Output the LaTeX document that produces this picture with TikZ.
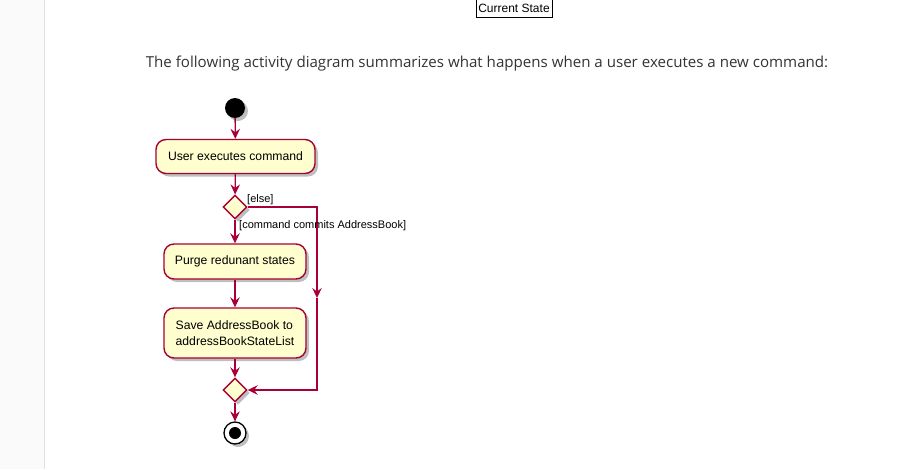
\documentclass[tikz,border=0pt]{standalone}
\usepackage{fontspec}
\setmainfont{Liberation Sans}
\newfontfamily\parafont{Open Sans}
\usetikzlibrary{arrows.meta,shapes.geometric,shadows}
\definecolor{umlred}{HTML}{A80036}
\definecolor{umlfill}{HTML}{FEFECE}
\definecolor{paratext}{HTML}{333333}
\definecolor{sidebg}{HTML}{FAFAFA}
\definecolor{sideline}{HTML}{E0E0E0}
\tikzset{
  umlshadow/.style={drop shadow={shadow xshift=3pt,shadow yshift=-3pt,fill=black,opacity=0.25}},
  action/.style={draw=umlred,fill=umlfill,line width=1.4pt,rounded corners=10pt,umlshadow,
    minimum height=34pt,inner xsep=9pt,align=left,font=\fontsize{12.2}{15.5}\selectfont},
  decision/.style={draw=umlred,fill=umlfill,line width=1.4pt,diamond,minimum width=24pt,minimum height=24pt,inner sep=0pt,umlshadow},
  flow/.style={draw=umlred,line width=1.3pt,-{Stealth[length=10pt,width=9.5pt,inset=3.5pt]}},
  guard/.style={font=\fontsize{11}{12}\selectfont,inner sep=1pt},
}
\begin{document}
\begin{tikzpicture}[x=1pt,y=-1pt]
\useasboundingbox (0,0) rectangle (919,469);
\fill[white] (0,0) rectangle (919,469);
\fill[sidebg] (0,0) rectangle (44,469);
\draw[sideline,line width=1pt] (44.5,0) -- (44.5,469);
\node[draw=black,line width=0.9pt,fill=white,inner sep=1.5pt,minimum width=76pt,minimum height=18pt,font=\fontsize{12}{14}\selectfont] (cs) at (514,8) {Current State};
\node[font=\parafont\fontsize{15.1}{18}\selectfont,text=paratext] (para) at (487,63.5) {The following activity diagram summarizes what happens when a user executes a new command:};
\node[circle,fill=black,minimum size=20pt,inner sep=0pt,umlshadow] (start) at (235,108) {};
\node[action,minimum width=159pt] (exec) at (235.5,156.5) {User executes command};
\node[decision] (d1) at (235,207) {};
\node[action,minimum width=142pt,minimum height=35pt] (purge) at (235,261.5) {Purge redunant states};
\node[action,minimum width=142pt,minimum height=50pt] (save) at (235,333) {Save AddressBook to\\addressBookStateList};
\node[decision] (d2) at (235,390) {};
\node[circle,draw=black,line width=1.3pt,fill=white,minimum size=22pt,inner sep=0pt,umlshadow] (stop) at (235,433) {};
\node[circle,fill=black,minimum size=12pt,inner sep=0pt] (stopin) at (stop) {};
\coordinate (r1) at (317,207);
\coordinate (rm) at (317,298);
\coordinate (r2) at (317,390);
\draw[flow] (start) -- (exec);
\draw[flow] (exec) -- (d1);
\draw[flow] (d1) -- (purge);
\draw[flow] (purge) -- (save);
\draw[flow] (save) -- (d2);
\draw[flow] (d2) -- (stop);
\draw[flow] (d1.east) -- (r1) -- (rm);
\draw[flow] (rm) -- (r2) -- (d2.east);
\node[guard,anchor=south west] (lelse) at (246,206) {[else]};
\node[guard,anchor=west] (lcmd) at (238,226) {[command commits AddressBook]};
\end{tikzpicture}
\end{document}
